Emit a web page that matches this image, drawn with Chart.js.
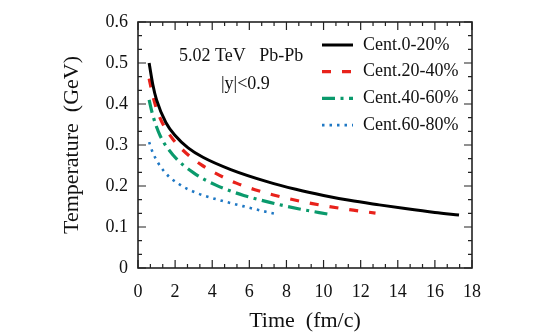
<!DOCTYPE html>
<html>
<head>
<meta charset="utf-8">
<script src="https://cdn.jsdelivr.net/npm/chart.js@4.4.0/dist/chart.umd.min.js"></script>
<style>
html, body { margin: 0; padding: 0; background: #fff; }
#wrap { width: 556px; height: 334px; }
</style>
</head>
<body>
<div id="wrap"><canvas id="tempChart" width="556" height="334"></canvas></div>
<script>
// ====== data ======
const seriesLabels = ['Cent.0-20%', 'Cent.20-40%', 'Cent.40-60%', 'Cent.60-80%'];

const time0020 = [0.6, 0.8, 1.0, 1.5, 2.0, 2.7, 3.5, 5.0, 7.0, 8.5, 10, 11.4, 13, 14.4, 16, 17.3];
const temp0020 = [0.50, 0.447, 0.41, 0.355, 0.323, 0.293, 0.27, 0.24, 0.21, 0.192, 0.177, 0.165, 0.154, 0.145, 0.1355, 0.129];

const time2040 = [0.6, 0.8, 1.0, 1.3, 1.9, 2.6, 3.4, 4.4, 5.3, 6.3, 7.3, 9.4, 11.6, 12.8];
const temp2040 = [0.462, 0.42, 0.388, 0.355, 0.313, 0.28, 0.252, 0.226, 0.207, 0.191, 0.178, 0.157, 0.141, 0.134];

const time4060 = [0.6, 0.8, 1.2, 1.9, 3.0, 4.2, 5.1, 5.7, 7.1, 8.7, 10.3];
const temp4060 = [0.41, 0.372, 0.322, 0.275, 0.232, 0.202, 0.186, 0.177, 0.16, 0.144, 0.131];

const time6080 = [0.6, 0.8, 1.4, 2.3, 3.0, 3.6, 4.6, 6.0, 6.9, 7.5];
const temp6080 = [0.307, 0.281, 0.236, 0.202, 0.186, 0.176, 0.163, 0.147, 0.137, 0.131];

const xTickStep = 2;
const yTickStep = 0.1;
const annotationLines = ['5.02 TeV   Pb-Pb', '|y|<0.9'];

const serif = '"Liberation Serif", "DejaVu Serif", serif';

function toPoints(ts, vs) {
    return ts.map((t, i) => ({ x: t, y: vs[i] }));
}

// 枠と内向きの目盛り（上下左右）
const frameTicks = {
    id: 'frameTicks',
    afterDatasetsDraw(chart) {
        const { ctx, chartArea: a, scales: { x, y } } = chart;
        ctx.save();
        ctx.strokeStyle = '#222';
        ctx.lineWidth = 1.2;
        ctx.beginPath();
        // 主目盛り1つにつき3分割
        const xSub = xTickStep / 3;
        const xn = Math.round((x.max - x.min) / xSub);
        for (let i = 0; i <= xn; i++) {
            const px = x.getPixelForValue(x.min + i * xSub);
            const len = i % 3 === 0 ? 8 : 4;
            ctx.moveTo(px, a.bottom); ctx.lineTo(px, a.bottom - len);
            ctx.moveTo(px, a.top); ctx.lineTo(px, a.top + len);
        }
        const ySub = yTickStep / 3;
        const yn = Math.round((y.max - y.min) / ySub);
        for (let i = 0; i <= yn; i++) {
            const py = y.getPixelForValue(y.min + i * ySub);
            const len = i % 3 === 0 ? 8 : 4;
            ctx.moveTo(a.left, py); ctx.lineTo(a.left + len, py);
            ctx.moveTo(a.right, py); ctx.lineTo(a.right - len, py);
        }
        ctx.stroke();
        ctx.lineWidth = 1.6;
        ctx.strokeRect(a.left, a.top, a.right - a.left, a.bottom - a.top);
        ctx.restore();
    }
};

// 凡例と注記（プロット内）
const insideText = {
    id: 'insideText',
    afterDraw(chart) {
        const { ctx, chartArea: a } = chart;
        ctx.save();
        ctx.font = '18px ' + serif;
        ctx.textBaseline = 'middle';
        ctx.fillStyle = '#111';

        chart.data.datasets.forEach((ds, i) => {
            const yy = a.top + 23 + i * 26.7;
            const x0 = a.right - 150;
            ctx.strokeStyle = ds.borderColor;
            ctx.lineWidth = ds.borderWidth;
            ctx.setLineDash(ds.borderDash || []);
            ctx.beginPath();
            ctx.moveTo(x0, yy);
            ctx.lineTo(x0 + 31, yy);
            ctx.stroke();
            ctx.setLineDash([]);
            ctx.fillText(ds.label, x0 + 41, yy);
        });

        ctx.fillText(annotationLines[0], a.left + 41, a.top + 34);
        ctx.fillText(annotationLines[1], a.left + 83, a.top + 62);
        ctx.restore();
    }
};

const chart = new Chart(document.getElementById('tempChart'), {
    type: 'line',
    data: {
        datasets: [
            {
                label: seriesLabels[0],
                data: toPoints(time0020, temp0020),
                borderColor: '#000000',
                borderWidth: 3,
                borderDash: []
            },
            {
                label: seriesLabels[1],
                data: toPoints(time2040, temp2040),
                borderColor: '#e8221b',
                borderWidth: 3.2,
                borderDash: [9, 11]
            },
            {
                label: seriesLabels[2],
                data: toPoints(time4060, temp4060),
                borderColor: '#0a9a6c',
                borderWidth: 3.2,
                borderDash: [13, 5.5, 3, 5.5]
            },
            {
                label: seriesLabels[3],
                data: toPoints(time6080, temp6080),
                borderColor: '#1f78c4',
                borderWidth: 2.6,
                borderDash: [2.5, 5]
            }
        ]
    },
    options: {
        responsive: false,
        animation: false,
        devicePixelRatio: 1,
        elements: {
            point: { radius: 0 },
            line: { cubicInterpolationMode: 'monotone', fill: false }
        },
        layout: { padding: { top: 22, right: 84, left: 0, bottom: 0 } },
        plugins: {
            legend: { display: false },
            tooltip: { enabled: false }
        },
        scales: {
            x: {
                type: 'linear',
                min: 0,
                max: 18,
                grid: { display: false, drawTicks: false },
                border: { display: false },
                ticks: {
                    stepSize: xTickStep,
                    color: '#111',
                    padding: 13,
                    font: { family: serif, size: 18 },
                    maxRotation: 0
                },
                title: {
                    display: true,
                    text: 'Time  (fm/c)',
                    color: '#111',
                    font: { family: serif, size: 22 },
                    padding: { top: 0, bottom: 0 }
                },
                afterFit(s) { s.height = 66; }
            },
            y: {
                type: 'linear',
                min: 0,
                max: 0.6,
                grid: { display: false, drawTicks: false },
                border: { display: false },
                ticks: {
                    stepSize: yTickStep,
                    color: '#111',
                    padding: 10,
                    font: { family: serif, size: 18 }
                },
                title: {
                    display: true,
                    text: 'Temperature  (GeV)',
                    color: '#111',
                    font: { family: serif, size: 22 },
                    padding: { top: 59, bottom: 0 }
                },
                afterFit(s) { s.width = 138; }
            }
        }
    },
    plugins: [frameTicks, insideText]
});
</script>
</body>
</html>
